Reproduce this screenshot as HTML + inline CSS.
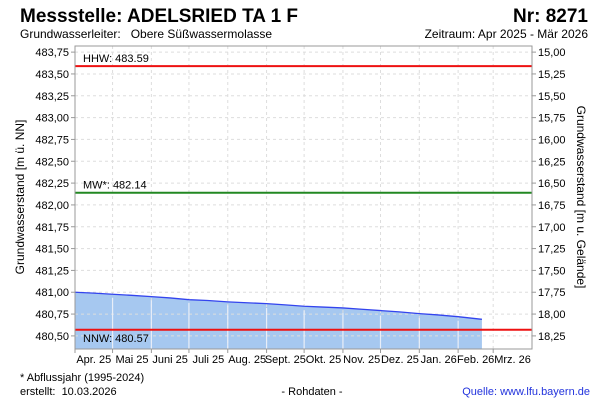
<!DOCTYPE html>
<html><head><meta charset="utf-8"><style>
body{margin:0;background:#fff}
svg{display:block;font-family:"Liberation Sans",sans-serif}
svg text{white-space:pre}
</style></head><body>
<svg id="c" width="600" height="400" viewBox="0 0 600 400">
<text x="20" y="22" font-size="19" font-weight="bold">Messstelle: ADELSRIED TA 1 F</text>
<text x="588" y="22" font-size="19" font-weight="bold" text-anchor="end">Nr: 8271</text>
<text x="20" y="38" font-size="12">Grundwasserleiter:   Obere Süßwassermolasse</text>
<text x="588" y="38" font-size="12" text-anchor="end">Zeitraum: Apr 2025 - Mär 2026</text>
<g id="plot"></g>
<text transform="translate(24,197) rotate(-90)" font-size="12" text-anchor="middle">Grundwasserstand [m ü. NN]</text>
<text transform="translate(577,197) rotate(90)" font-size="12" text-anchor="middle">Grundwasserstand [m u. Gelände]</text>
<text x="20" y="381" font-size="11">* Abflussjahr (1995-2024)</text>
<text x="20" y="395" font-size="11">erstellt:  10.03.2026</text>
<text x="312" y="395" font-size="11" text-anchor="middle">- Rohdaten -</text>
<text x="590" y="395" font-size="11" fill="#2233dd" text-anchor="end">Quelle: www.lfu.bayern.de</text>
</svg>
<script>
const months=["Apr. 25","Mai 25","Juni 25","Juli 25","Aug. 25","Sept. 25","Okt. 25","Nov. 25","Dez. 25","Jan. 26","Feb. 26","Mrz. 26"];
const monthDays=[30,31,30,31,31,30,31,30,31,31,28,31];
const leftTicks=[480.5,480.75,481,481.25,481.5,481.75,482,482.25,482.5,482.75,483,483.25,483.5,483.75];
const dataDays=[0,15,30,45,61,76,91,106,122,137,153,168,183,198,214,229,244,259,275,290,306,325];
const dataValues=[481.00,480.99,480.977,480.965,480.95,480.935,480.915,480.905,480.89,480.88,480.87,480.855,480.84,480.83,480.82,480.805,480.79,480.775,480.755,480.74,480.72,480.69];
const refLabels=["HHW: 483.59","MW*: 482.14","NNW: 480.57"];
const refValues=[483.59,482.14,480.57];
const refColors=["#ee1111","#228822","#ee1111"];
const gelaende=498.75;

const X0=75,X1=532,Y0=46,Y1=349,vmin=480.35,vmax=483.82,totalDays=365;
const xs=d=>X0+(X1-X0)*d/totalDays;
const ys=v=>Y1-(Y1-Y0)*(v-vmin)/(vmax-vmin);
const g=document.getElementById('plot');
const NS="http://www.w3.org/2000/svg";
function mk(t,a){const e=document.createElementNS(NS,t);for(const k in a)e.setAttribute(k,a[k]);g.appendChild(e);return e;}
const fmt=v=>v.toFixed(2).replace('.',',');

let pts=dataDays.map((d,i)=>xs(d)+","+ys(dataValues[i]));
let area=mk('polygon',{points:xs(dataDays[0])+","+Y1+" "+pts.join(" ")+" "+xs(dataDays[dataDays.length-1])+","+Y1,fill:"#a6c8f0"});



leftTicks.forEach(v=>{
  const l=mk('line',{x1:X0,x2:X1,y1:ys(v),y2:ys(v),stroke:"#dddddd","stroke-dasharray":"3,3"});
  
  
  const t=mk('line',{x1:X0-4,x2:X0,y1:ys(v),y2:ys(v),stroke:"#999"});
  
  
  const t2=mk('line',{x1:X1,x2:X1+4,y1:ys(v),y2:ys(v),stroke:"#999"});
  
  
  const tl=mk('text',{x:X0-6,y:ys(v)+4,"font-size":11,"text-anchor":"end"});tl.textContent=fmt(v);
  
  
  const tr=mk('text',{x:X1+6,y:ys(v)+4,"font-size":11});tr.textContent=fmt(gelaende-v);
  
  
});
let cum=0;
months.forEach((m,i)=>{
  const xa=xs(cum),xb=xs(cum+monthDays[i]);
  if(i>0){
    const l=mk('line',{x1:xa,x2:xa,y1:Y0,y2:Y1,stroke:"#dddddd","stroke-dasharray":"3,3"});
    
    
  }
  const t=mk('line',{x1:xa,x2:xa,y1:Y1,y2:Y1+4,stroke:"#999"});
  
  
  const tx=mk('text',{x:(xa+xb)/2,y:Y1+14,"font-size":11,"text-anchor":"middle"});tx.textContent=m;
  
  
  cum+=monthDays[i];
});
cum=0;
months.forEach((m,i)=>{
  if(i>0&&cum<dataDays[dataDays.length-1]){
    const yTop=ys(dataValues[0]-(dataValues[0]-dataValues[dataValues.length-1])*cum/dataDays[dataDays.length-1])+3;
    const l=mk('line',{x1:xs(cum),x2:xs(cum),y1:yTop,y2:Y1,stroke:"#e8eef8","stroke-width":1.2});
    
    
  }
  cum+=monthDays[i];
});
const ln=mk('polyline',{points:pts.join(" "),fill:"none",stroke:"#3344ee","stroke-width":1.3});



refValues.forEach((v,i)=>{
  const l=mk('line',{x1:X0,x2:X1,y1:ys(v),y2:ys(v),stroke:refColors[i],"stroke-width":2});
  
  
  const t=mk('text',{x:X0+8,y:i==2?ys(v)+12:ys(v)-4,"font-size":11});t.textContent=refLabels[i];
  
  
});
const b=mk('rect',{x:X0,y:Y0,width:X1-X0,height:Y1-Y0,fill:"none",stroke:"#999"});


</script>
</body></html>
